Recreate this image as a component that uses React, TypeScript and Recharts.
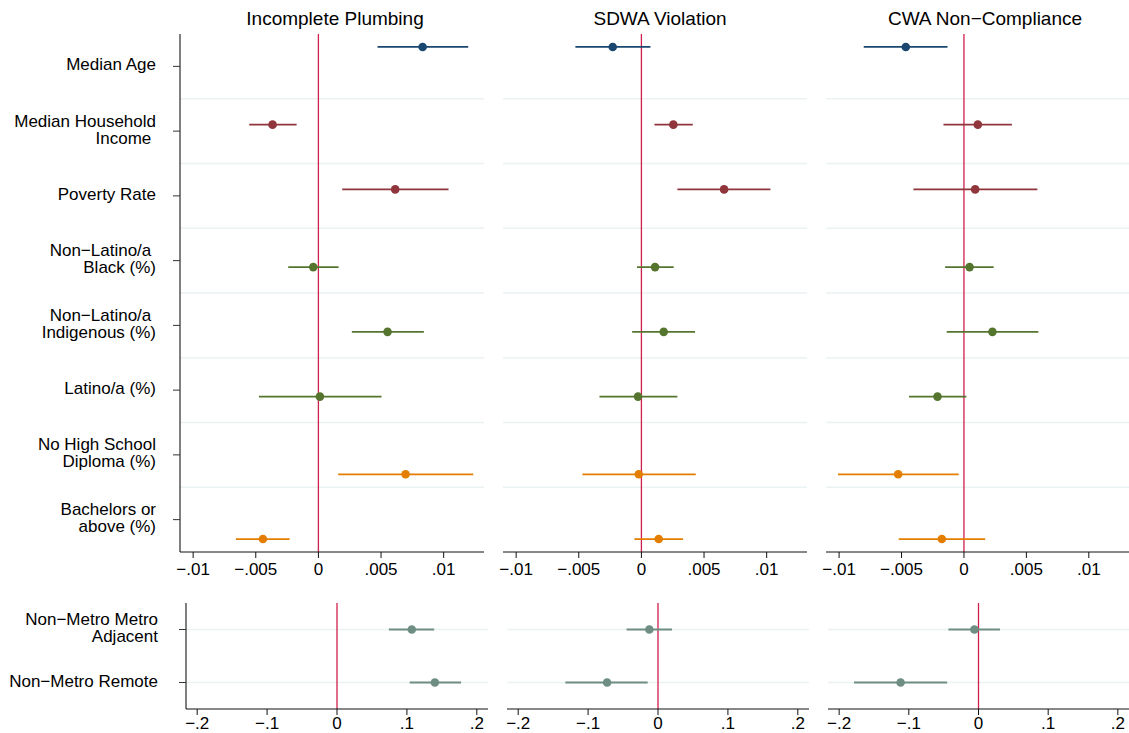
import React from 'react';
import { ScatterChart, Scatter, XAxis, YAxis, ErrorBar, ReferenceLine } from 'recharts';

const FONT = '"Liberation Sans", Arial, Helvetica, sans-serif';

// ---------- categories / labels ----------
const outcomeTitles = ['Incomplete Plumbing', 'SDWA Violation', 'CWA Non\u2212Compliance'];

const topLabelLines: string[][] = [
  ['Median Age'],
  ['Median Household', 'Income\u00a0'],
  ['Poverty Rate'],
  ['Non\u2212Latino/a\u00a0', 'Black (%)'],
  ['Non\u2212Latino/a\u00a0', 'Indigenous (%)'],
  ['Latino/a (%)'],
  ['No High School', 'Diploma (%)'],
  ['Bachelors or', 'above (%)'],
];
const topGroup = [0, 1, 1, 2, 2, 2, 3, 3];
const groupColors = ['#1a476f', '#90353b', '#55752f', '#e37e00'];

const bottomLabelLines: string[][] = [['Non\u2212Metro Metro', 'Adjacent'], ['Non\u2212Metro Remote']];
const bottomColor = '#6e8e84';

const topTicks = [-0.01, -0.005, 0, 0.005, 0.01];
const topTickLabels = ['\u2212.01', '\u2212.005', '0', '.005', '.01'];
const bottomTicks = [-0.2, -0.1, 0, 0.1, 0.2];
const bottomTickLabels = ['\u2212.2', '\u2212.1', '0', '.1', '.2'];

// ---------- estimates (top row) ----------
const plumbingEst = [0.00832, -0.00366, 0.00613, -0.00041, 0.00552, 0.00012, 0.00696, -0.00443];
const plumbingLow = [0.00472, -0.00552, 0.0019, -0.00241, 0.00267, -0.00475, 0.00158, -0.00659];
const plumbingHigh = [0.01196, -0.00174, 0.01039, 0.00161, 0.00842, 0.00504, 0.01236, -0.0023];

const sdwaEst = [-0.00229, 0.00255, 0.0066, 0.00109, 0.00178, -0.00027, -0.00021, 0.00138];
const sdwaLow = [-0.00527, 0.00104, 0.00287, -0.00035, -0.00074, -0.00335, -0.00471, -0.00056];
const sdwaHigh = [0.00072, 0.0041, 0.0103, 0.00258, 0.00428, 0.00287, 0.00434, 0.00333];

const cwaEst = [-0.00466, 0.00111, 0.0009, 0.00045, 0.00228, -0.00212, -0.00527, -0.00177];
const cwaLow = [-0.00803, -0.00164, -0.00405, -0.00151, -0.00138, -0.0044, -0.01009, -0.00522];
const cwaHigh = [-0.00132, 0.00384, 0.00588, 0.00238, 0.00596, 0.00019, -0.00042, 0.0017];

// ---------- estimates (bottom row) ----------
const plumbingMetroEst = [0.107, 0.14];
const plumbingMetroLow = [0.0742, 0.104];
const plumbingMetroHigh = [0.139, 0.1775];

const sdwaMetroEst = [-0.0124, -0.0728];
const sdwaMetroLow = [-0.045, -0.1325];
const sdwaMetroHigh = [0.0201, -0.0148];

const cwaMetroEst = [-0.0059, -0.1118];
const cwaMetroLow = [-0.0432, -0.1787];
const cwaMetroHigh = [0.0308, -0.045];

// ---------- helpers ----------
const ZERO_COLOR = '#cf1f4c';
const GRID_COLOR = '#eaf2f3';

type Pt = { x: number; y: number; err: [number, number] };
type Series = { color: string; data: Pt[] };

function buildTopSeries(est: number[], low: number[], high: number[]): Series[] {
  return groupColors.map((color, g) => ({
    color,
    data: est
      .map((v, i) => ({ i, v }))
      .filter(({ i }) => topGroup[i] === g)
      .map(({ i, v }) => ({
        x: v,
        y: i + 0.5 + (g - 1.5) * 0.2,
        err: [v - low[i], high[i] - v] as [number, number],
      })),
  }));
}

function buildBottomSeries(est: number[], low: number[], high: number[]): Series[] {
  return [
    {
      color: bottomColor,
      data: est.map((v, i) => ({ x: v, y: i + 0.5, err: [v - low[i], high[i] - v] as [number, number] })),
    },
  ];
}

const makeYTick = (lines: string[][], gap: number) => (props: any) => {
  const { x, y, payload } = props;
  const idx = Math.round(payload.value - 0.5);
  const ls = lines[idx] || [];
  const lh = 17;
  const first = y - 2 - ((ls.length - 1) * lh) / 2 + 6;
  return (
    <text textAnchor="end" fontSize={17} fontFamily={FONT} fill="#000">
      {ls.map((l, i) => (
        <tspan key={i} x={x - gap} y={first + i * lh} style={{ whiteSpace: 'pre' }}>
          {l}
        </tspan>
      ))}
    </text>
  );
};

type PanelProps = {
  left: number;
  top: number;
  width: number;
  height: number;
  marginTop: number;
  marginLeft: number;
  yAxisWidth: number;
  showY: boolean;
  xDomain: [number, number];
  xTicks: number[];
  xTickLabels: string[];
  yDomain: [number, number];
  yTickVals: number[];
  labelLines: string[][];
  labelGap: number;
  gridYs: number[];
  series: Series[];
  xAxisHeight: number;
  tickMargin: number;
};

function Panel(p: PanelProps) {
  const fmt = (v: number) => {
    const k = p.xTicks.findIndex((t) => Math.abs(t - v) < 1e-9);
    return k >= 0 ? p.xTickLabels[k] : String(v);
  };
  return (
    <div style={{ position: 'absolute', left: p.left, top: p.top }}>
      <ScatterChart
        width={p.width}
        height={p.height}
        margin={{ top: p.marginTop, right: 0, bottom: 0, left: p.marginLeft }}
      >
        <XAxis
          type="number"
          dataKey="x"
          domain={p.xDomain}
          allowDataOverflow
          ticks={p.xTicks}
          interval={0}
          tickFormatter={fmt}
          height={p.xAxisHeight}
          tickSize={6}
          tickMargin={p.tickMargin}
          axisLine={{ stroke: '#111', strokeWidth: 1 }}
          tickLine={{ stroke: '#111', strokeWidth: 1 }}
          tick={{ fontSize: 17, fill: '#000', fontFamily: FONT }}
        />
        <YAxis
          type="number"
          dataKey="y"
          domain={p.yDomain}
          allowDataOverflow
          reversed
          ticks={p.yTickVals}
          interval={0}
          hide={!p.showY}
          width={p.yAxisWidth}
          tickSize={p.showY ? 7 : 0}
          tickMargin={0}
          axisLine={{ stroke: '#000', strokeWidth: 1 }}
          tickLine={{ stroke: '#333', strokeWidth: 1 }}
          tick={makeYTick(p.labelLines, p.labelGap)}
        />
        {p.gridYs.map((g) => (
          <ReferenceLine key={'g' + g} y={g} stroke={GRID_COLOR} strokeWidth={1.6} />
        ))}
        <ReferenceLine x={0} stroke={ZERO_COLOR} strokeWidth={1.3} />
        {p.series.map((s, si) => (
          <Scatter
            key={si}
            data={s.data}
            isAnimationActive={false}
            fill={s.color}
            shape={(sp: any) => <circle cx={sp.cx} cy={sp.cy} r={4.3} fill={s.color} />}
          >
            <ErrorBar dataKey="err" direction="x" width={0} stroke={s.color} strokeWidth={1.8} />
          </Scatter>
        ))}
      </ScatterChart>
    </div>
  );
}

const topDomain: [number, number] = [-0.01105, 0.01322];
const bottomDomain: [number, number] = [-0.216, 0.216];
const topYTicks = topLabelLines.map((_, i) => i + 0.5);
const topGrid = topLabelLines.slice(1).map((_, i) => i + 1);
const bottomYTicks = bottomLabelLines.map((_, i) => i + 0.5);
const bottomGrid = bottomYTicks;

const topSeries = [
  buildTopSeries(plumbingEst, plumbingLow, plumbingHigh),
  buildTopSeries(sdwaEst, sdwaLow, sdwaHigh),
  buildTopSeries(cwaEst, cwaLow, cwaHigh),
];
const bottomSeries = [
  buildBottomSeries(plumbingMetroEst, plumbingMetroLow, plumbingMetroHigh),
  buildBottomSeries(sdwaMetroEst, sdwaMetroLow, sdwaMetroHigh),
  buildBottomSeries(cwaMetroEst, cwaMetroLow, cwaMetroHigh),
];

const topLayout = [
  { left: 0, width: 484, marginLeft: 0, yAxisWidth: 180, showY: true },
  { left: 484, width: 323, marginLeft: 19, yAxisWidth: 0, showY: false },
  { left: 807, width: 322, marginLeft: 19, yAxisWidth: 0, showY: false },
];
const bottomLayout = [
  { left: 0, width: 488, marginLeft: 0, yAxisWidth: 186, showY: true },
  { left: 488, width: 321, marginLeft: 19, yAxisWidth: 0, showY: false },
  { left: 809, width: 320, marginLeft: 19, yAxisWidth: 0, showY: false },
];
const titleCenters = [335, 660, 985];

export default function App() {
  return (
    <div
      style={{
        position: 'absolute',
        left: 0,
        top: 0,
        width: 1129,
        height: 733,
        background: '#fff',
        overflow: 'hidden',
        fontFamily: FONT,
      }}
    >
      <svg width={1129} height={40} style={{ position: 'absolute', left: 0, top: 0 }}>
        {outcomeTitles.map((t, i) => (
          <text key={t} x={titleCenters[i]} y={25} textAnchor="middle" fontSize={19} fontFamily={FONT} fill="#000">
            {t}
          </text>
        ))}
      </svg>
      {topLayout.map((l, i) => (
        <Panel
          key={'t' + i}
          left={l.left}
          top={0}
          width={l.width}
          height={590}
          marginTop={34}
          marginLeft={l.marginLeft}
          yAxisWidth={l.yAxisWidth}
          showY={l.showY}
          xDomain={topDomain}
          xTicks={topTicks}
          xTickLabels={topTickLabels}
          yDomain={[0, topLabelLines.length]}
          yTickVals={topYTicks}
          labelLines={topLabelLines}
          labelGap={17}
          gridYs={topGrid}
          series={topSeries[i]}
          xAxisHeight={38}
          tickMargin={5}
        />
      ))}
      {bottomLayout.map((l, i) => (
        <Panel
          key={'b' + i}
          left={l.left}
          top={590}
          width={l.width}
          height={143}
          marginTop={13}
          marginLeft={l.marginLeft}
          yAxisWidth={l.yAxisWidth}
          showY={l.showY}
          xDomain={bottomDomain}
          xTicks={bottomTicks}
          xTickLabels={bottomTickLabels}
          yDomain={[0, bottomLabelLines.length]}
          yTickVals={bottomYTicks}
          labelLines={bottomLabelLines}
          labelGap={21}
          gridYs={bottomGrid}
          series={bottomSeries[i]}
          xAxisHeight={24}
          tickMargin={2}
        />
      ))}
    </div>
  );
}
